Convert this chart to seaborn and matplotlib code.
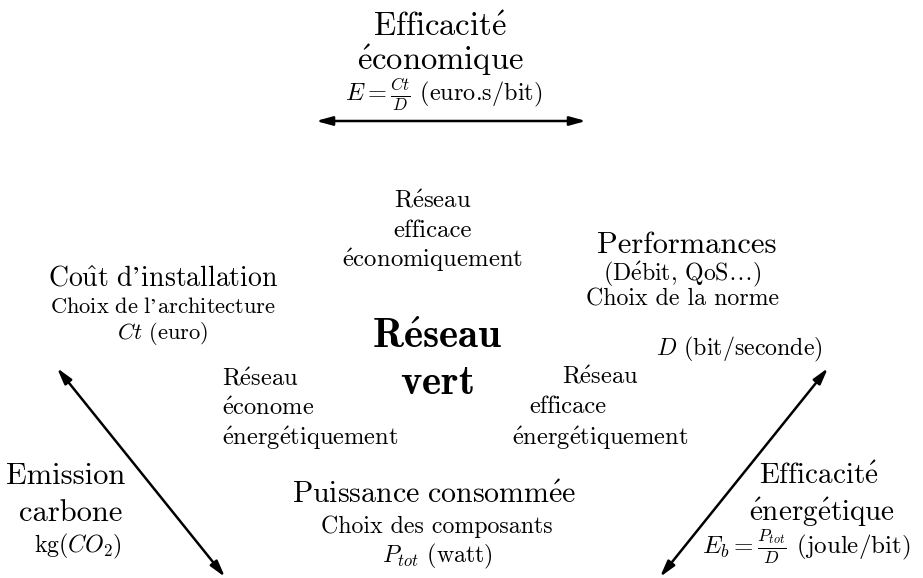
import matplotlib.pyplot as plt
import seaborn as sns

# texts of the diagram
top_lines = ['Efficacité', 'économique', r'$E=\frac{Ct}{D}$ (euro.s/bit)']
cout_lines = ['Coût d\u2019installation', 'Choix de l\u2019architecture', r'$Ct$ (euro)']
perf_lines = ['Performances', '(Débit, QoS\u2026)', 'Choix de la norme']
perf_unit = r'$D$ (bit/seconde)'
centre_lines = ['Réseau', 'vert']
eco_lines = ['Réseau', 'efficace', 'économiquement']
econome_lines = ['Réseau', 'économe', 'énergétiquement']
effic_lines = ['Réseau', 'efficace', 'énergétiquement']
puiss_lines = ['Puissance consommée', 'Choix des composants', r'$P_{tot}$ (watt)']
emis_lines = ['Emission', 'carbone', r'kg$(CO_2)$']
ener_lines = ['Efficacité', 'énergétique', r'$E_b=\frac{P_{tot}}{D}$ (joule/bit)']

sns.set_theme(style='white')
plt.rcParams['font.family'] = ['cmr10', 'DejaVu Serif']
plt.rcParams['mathtext.fontset'] = 'cm'
plt.rcParams['axes.unicode_minus'] = False
plt.rcParams['axes.formatter.use_mathtext'] = True


def tex(s, bold=False):
    # cmr10 has no accented glyphs: such lines go through Computer Modern mathtext
    if s.isascii() and not bold:
        return s
    res = ''
    for i, p in enumerate(s.split('$')):
        if i % 2 == 1:
            res += p
            continue
        if not p:
            continue
        q = (p.replace('é', r'\acute{e}')
             .replace('û', r'\hat{u}')
             .replace('\u2026', r'\ldots')
             .replace(' ', r'\ ')
             .replace(r',\ ', r',\!\ '))
        res += (r'\mathbf{' if bold else r'\mathrm{') + q + '}'
    return '$' + res + '$'


fig = plt.figure(figsize=(9.23, 5.78), dpi=100)
ax = fig.add_axes([0, 0, 1, 1])
ax.set_xlim(0, 923)
ax.set_ylim(578, 0)
ax.axis('off')


def block(lines, ys, sizes, xs, ha='center', bold=False):
    for t, x, y, s in zip(lines, xs, ys, sizes):
        ax.text(x, y, tex(t, bold), fontsize=s, ha=ha, va='baseline', color='black')


block(top_lines, [36, 70, 101], [23.5, 23.5, 17.5], [440, 440, 444])
block(cout_lines, [285, 313, 339], [20, 16.2, 16.2], [163, 163, 163])
block(perf_lines, [253, 280, 306], [22, 17.2, 17.2], [687, 682, 683])
block([perf_unit], [355], [17.2], [739])
block(centre_lines, [348, 394], [29.5, 29.5], [437, 437], bold=True)
block(eco_lines, [207, 237, 267], [17.8] * 3, [433, 433, 433])
block(econome_lines, [385, 415, 445], [17.6] * 3, [222, 222, 222], ha='left')
block(effic_lines, [383, 413, 445], [17.6] * 3, [600, 568, 600])
block(puiss_lines, [503, 533, 562], [21.5, 17.2, 17.2], [434, 437, 437])
block(emis_lines, [484, 521, 552], [22, 22, 17.2], [66, 71, 78])
block(ener_lines, [484, 521, 553], [21, 21, 18], [819, 822, 806])

arrow = dict(arrowstyle='<|-|>,head_length=0.8,head_width=0.22', color='black',
             lw=1.8, shrinkA=0, shrinkB=0)
ax.annotate('', xy=(586, 121), xytext=(316, 121), arrowprops=arrow)
ax.annotate('', xy=(225, 577), xytext=(57, 368), arrowprops=arrow)
ax.annotate('', xy=(660, 577), xytext=(828, 368), arrowprops=arrow)

fig.savefig('out.png', dpi=100)
